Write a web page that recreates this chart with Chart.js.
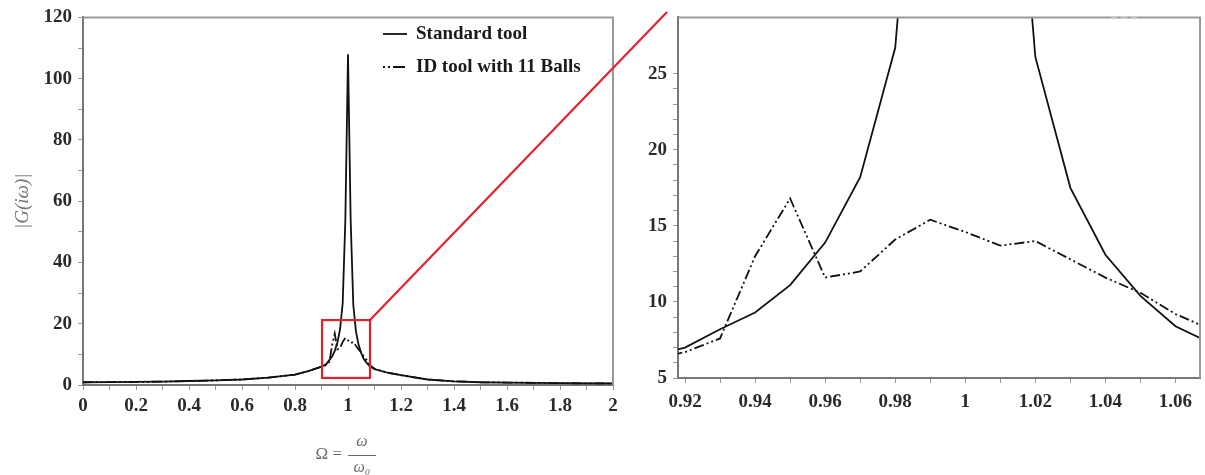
<!DOCTYPE html>
<html>
<head>
<meta charset="utf-8">
<script src="https://cdn.jsdelivr.net/npm/chart.js@4.4.1/dist/chart.umd.min.js"></script>
<style>
  html, body { margin: 0; padding: 0; background: #ffffff; }
  #wrap { position: relative; width: 1205px; height: 475px; overflow: hidden; }
  #fullBox { position: absolute; left: 0; top: 0; width: 680px; height: 475px; }
  #zoomBox { position: absolute; left: 620px; top: 0; width: 585px; height: 475px; }
</style>
</head>
<body>
<div id="wrap">
  <div id="fullBox"><canvas id="fullChart"></canvas></div>
  <div id="zoomBox"><canvas id="zoomChart"></canvas></div>
</div>
<script>
// frequency ratio Omega = w / w0
const omega = [0, 0.1, 0.2, 0.3, 0.4, 0.5, 0.6, 0.7, 0.8, 0.85, 0.9, 0.91,
    0.92, 0.93, 0.94, 0.95, 0.96, 0.97, 0.98, 0.99, 1.0, 1.01, 1.02, 1.03,
    1.04, 1.05, 1.06, 1.07, 1.08, 1.1, 1.15, 1.2, 1.3, 1.4, 1.5, 1.6, 1.8, 2.0];
// |G(iw)| for the standard tool (solid line)
const standardTool = [0.9, 0.95, 1.0, 1.1, 1.3, 1.5, 1.8, 2.4, 3.4, 4.5, 6.0, 6.4,
    7.0, 8.2, 9.3, 11.1, 13.9, 18.2, 26.7, 54, 108, 54, 26.1, 17.5,
    13.1, 10.4, 8.4, 7.3, 6.3, 5.2, 4.0, 3.2, 1.8, 1.2, 0.9, 0.8, 0.6, 0.5];
// |G(iw)| for the ID tool with 11 balls (dash-dot-dot line)
const idTool = [0.9, 0.95, 1.0, 1.1, 1.3, 1.5, 1.8, 2.4, 3.4, 4.5, 6.0, 6.2,
    6.7, 7.6, 13.0, 16.8, 11.6, 12.0, 14.1, 15.4, 14.6, 13.7, 14.0, 12.8,
    11.6, 10.6, 9.2, 8.2, 6.6, 5.3, 4.0, 3.2, 1.8, 1.2, 0.9, 0.8, 0.6, 0.5];

const seriesNames = ['Standard tool', 'ID tool with 11 Balls'];

// tick labels
const fullXTicks = [0, 0.2, 0.4, 0.6, 0.8, 1, 1.2, 1.4, 1.6, 1.8, 2];
const fullYTicks = [0, 20, 40, 60, 80, 100, 120];
const zoomXTicks = [0.92, 0.94, 0.96, 0.98, 1, 1.02, 1.04, 1.06];
const zoomYTicks = [5, 10, 15, 20, 25];

// region of the left plot that is magnified on the right
const zoomRegion = { xMin: 0.902, xMax: 1.083, yMin: 2.3, yMax: 21.2 };

const dashDotDot = [10, 3, 2, 3, 2, 3];
const tickFont = { family: 'Liberation Serif', size: 19, weight: 'bold' };

function points(ys) {
    return omega.map((x, i) => ({ x: x, y: ys[i] }));
}

function makeDatasets() {
    return [
        {
            label: seriesNames[0],
            data: points(standardTool),
            borderColor: '#111111',
            borderWidth: 1.8,
            pointRadius: 0,
            tension: 0
        },
        {
            label: seriesNames[1],
            data: points(idTool),
            borderColor: '#111111',
            borderWidth: 1.8,
            borderDash: dashDotDot,
            pointRadius: 0,
            tension: 0
        }
    ];
}

// major ticks get a label, minor ones only a tick mark
function withMinor(major, step) {
    const out = [];
    for (let i = 0; i < major.length; i++) {
        out.push(major[i]);
        if (i < major.length - 1) {
            for (let v = major[i] + step; v < major[i + 1] - step / 2; v += step) {
                out.push(+v.toFixed(4));
            }
        }
    }
    return out;
}

function fmt(v) {
    return String(+v.toFixed(3));
}

function axis(major, step, min, max, fit, pad) {
    const all = withMinor(major, step);
    return {
        type: 'linear',
        min: min,
        max: max,
        afterBuildTicks: s => { s.ticks = all.map(v => ({ value: v })); },
        afterFit: fit,
        border: { display: true, color: '#777777', width: 2 },
        grid: {
            display: true,
            drawOnChartArea: false,
            drawTicks: true,
            tickLength: 5,
            color: '#999999'
        },
        ticks: {
            autoSkip: false,
            maxRotation: 0,
            padding: pad,
            color: '#2a2a2a',
            font: tickFont,
            callback: v => major.some(m => Math.abs(m - v) < 1e-6) ? fmt(v) : ''
        }
    };
}

// gray frame on top and right side of the plot area
const framePlugin = {
    id: 'frame',
    afterDraw(chart) {
        const a = chart.chartArea;
        const ctx = chart.ctx;
        ctx.save();
        ctx.strokeStyle = '#999999';
        ctx.lineWidth = 2;
        ctx.beginPath();
        ctx.moveTo(a.left, a.top);
        ctx.lineTo(a.right, a.top);
        ctx.lineTo(a.right, a.bottom);
        ctx.stroke();
        ctx.restore();
    }
};

// legend, x title with fraction, red zoom box and connector
const fullExtras = {
    id: 'fullExtras',
    afterDraw(chart) {
        const ctx = chart.ctx;
        const xs = chart.scales.x;
        const ys = chart.scales.y;
        const a = chart.chartArea;
        ctx.save();

        // legend
        const lx = 383, rows = [34, 67];
        ctx.font = 'bold 19px "Liberation Serif"';
        ctx.fillStyle = '#1a1a1a';
        ctx.textBaseline = 'middle';
        ctx.textAlign = 'left';
        rows.forEach((ly, i) => {
            ctx.strokeStyle = '#111111';
            ctx.lineWidth = 1.8;
            ctx.setLineDash(i === 0 ? [] : [2, 3, 2, 3, 12]);
            ctx.beginPath();
            ctx.moveTo(lx, ly);
            ctx.lineTo(lx + 24, ly);
            ctx.stroke();
            ctx.setLineDash([]);
            ctx.fillText(seriesNames[i], lx + 33, ly);
        });

        // red zoom rectangle
        const x1 = xs.getPixelForValue(zoomRegion.xMin);
        const x2 = xs.getPixelForValue(zoomRegion.xMax);
        const y1 = ys.getPixelForValue(zoomRegion.yMax);
        const y2 = ys.getPixelForValue(zoomRegion.yMin);
        ctx.strokeStyle = '#e0222c';
        ctx.lineWidth = 2.2;
        ctx.strokeRect(x1, y1, x2 - x1, y2 - y1);
        ctx.beginPath();
        ctx.moveTo(x2, y1);
        ctx.lineTo(667, 12);
        ctx.stroke();

        // x title: Omega = w / w0
        const cx = (a.left + a.right) / 2;
        ctx.fillStyle = '#6a6a6a';
        ctx.font = '17px "Liberation Serif"';
        ctx.textAlign = 'right';
        ctx.fillText('Ω =', cx - 6, 455);
        ctx.textAlign = 'center';
        ctx.font = 'italic 16px "Liberation Serif"';
        ctx.fillText('ω', cx + 14, 442);
        ctx.fillText('ω₀', cx + 14, 468);
        ctx.strokeStyle = '#6a6a6a';
        ctx.lineWidth = 1;
        ctx.beginPath();
        ctx.moveTo(cx, 455.5);
        ctx.lineTo(cx + 28, 455.5);
        ctx.stroke();
        ctx.restore();
    }
};

// faint remnant of a legend in the corner of the magnified plot
const zoomExtras = {
    id: 'zoomExtras',
    afterDraw(chart) {
        const ctx = chart.ctx;
        ctx.save();
        ctx.strokeStyle = '#cfcfcf';
        ctx.lineWidth = 1.5;
        ctx.setLineDash([6, 4]);
        ctx.beginPath();
        ctx.moveTo(491, 18);
        ctx.lineTo(521, 18);
        ctx.stroke();
        ctx.restore();
    }
};

const fullChart = new Chart(document.getElementById('fullChart'), {
    type: 'line',
    data: { datasets: makeDatasets() },
    options: {
        responsive: true,
        maintainAspectRatio: false,
        animation: false,
        layout: { padding: { top: 17, right: 67, left: 0, bottom: 0 } },
        plugins: { legend: { display: false }, tooltip: { enabled: false } },
        scales: {
            x: axis(fullXTicks, 0.1, 0, 2, s => { s.height = 90; }, 5),
            y: Object.assign(axis(fullYTicks, 10, 0, 120, s => { s.width = 83; }, 6), {
                title: {
                    display: true,
                    text: '|G(iω)|',
                    color: '#777777',
                    font: { family: 'Liberation Serif', size: 19, style: 'italic' },
                    padding: { top: 12, bottom: 0 }
                }
            })
        }
    },
    plugins: [framePlugin, fullExtras]
});

const zoomChart = new Chart(document.getElementById('zoomChart'), {
    type: 'line',
    data: { datasets: makeDatasets() },
    options: {
        responsive: true,
        maintainAspectRatio: false,
        animation: false,
        layout: { padding: { top: 10, right: 5, left: 0, bottom: 0 } },
        plugins: { legend: { display: false }, tooltip: { enabled: false } },
        scales: {
            x: axis(zoomXTicks, 0.01, 0.918, 1.067, s => { s.height = 97; }, 8),
            y: axis(zoomYTicks, 1, 5, 28.7, s => { s.width = 58; }, 6)
        }
    },
    plugins: [framePlugin, zoomExtras]
});
</script>
</body>
</html>
